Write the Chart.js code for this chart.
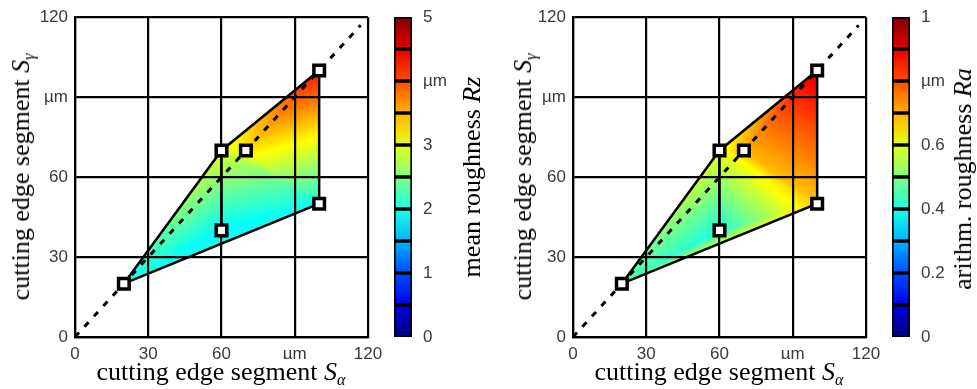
<!DOCTYPE html>
<html>
<head>
<meta charset="utf-8">
<script src="https://cdn.jsdelivr.net/npm/chart.js@4.4.0/dist/chart.umd.min.js"></script>
<style>
  body { margin: 0; background: #fff; width: 977px; height: 389px; overflow: hidden; position: relative; }
  canvas { position: absolute; top: 0; }
  .title {
    position: absolute; white-space: nowrap; line-height: 1; color: #000;
    font-family: "Liberation Serif", "Times New Roman", serif; font-size: 26px;
    transform: translate(-50%, -50%);
  }
  .rot { transform: translate(-50%, -50%) rotate(-90deg); }
  .title sub { font-size: 62%; vertical-align: baseline; position: relative; top: 0.3em; }
</style>
</head>
<body>
<canvas id="surfRz" width="390" height="389" style="left:0px"></canvas>
<canvas id="barRz" width="70" height="389" style="left:385px"></canvas>
<canvas id="surfRa" width="390" height="389" style="left:498px"></canvas>
<canvas id="barRa" width="70" height="389" style="left:883px"></canvas>

<div class="title" style="left:221px; top:372px">cutting edge segment <i>S</i><sub><i>α</i></sub></div>
<div class="title rot" style="left:21px; top:177px">cutting edge segment <i>S</i><sub><i>γ</i></sub></div>
<div class="title rot" style="left:472px; top:177px">mean roughness <i>Rz</i></div>

<div class="title" style="left:719px; top:372px">cutting edge segment <i>S</i><sub><i>α</i></sub></div>
<div class="title rot" style="left:523px; top:177px">cutting edge segment <i>S</i><sub><i>γ</i></sub></div>
<div class="title rot" style="left:963px; top:179px">arithm. roughness <i>Ra</i></div>

<script>
// measured points (A, C, D, E, F, B)
const sAlpha = [20, 60, 70, 100, 100, 60];
const sGamma = [20, 70, 70, 100, 50, 40];
const rz = [2.0, 2.95, 3.25, 4.3, 1.95, 1.85];
const ra = [0.45, 0.6, 0.7, 0.9, 0.68, 0.4];

// which points are joined
const outline = [0, 1, 3, 4, 0];
const inner = [1, 5];
const triangles = [[0, 5, 4], [0, 5, 1], [5, 4, 1], [1, 4, 2], [2, 4, 3], [1, 2, 3]];
const diagonal = [0, 117];

const axisTicks = [0, 30, 60, 90, 120];
const rzBins = [0, 0.5, 1, 1.5, 2, 2.5, 3, 3.5, 4, 4.5, 5];
const raBins = [0, 0.1, 0.2, 0.3, 0.4, 0.5, 0.6, 0.7, 0.8, 0.9, 1];

const tickFont = { family: '"Liberation Sans", Arial, sans-serif', size: 17 };
const tickColor = '#3a3a3a';

function clamp(v) { return Math.max(0, Math.min(1, v)); }
function jet(t) {
  return [
    Math.round(255 * clamp(1.5 - Math.abs(4 * t - 3))),
    Math.round(255 * clamp(1.5 - Math.abs(4 * t - 2))),
    Math.round(255 * clamp(1.5 - Math.abs(4 * t - 1)))
  ];
}
function jetCss(t) { const c = jet(t); return 'rgb(' + c.join(',') + ')'; }

// shaded surface under the grid
const surfacePlugin = {
  id: 'surface',
  beforeDraw(chart, args, opts) {
    const { ctx, scales: { x, y } } = chart;
    const px = sAlpha.map(v => x.getPixelForValue(v));
    const py = sGamma.map(v => y.getPixelForValue(v));
    const x0 = Math.floor(Math.min(...px)), x1 = Math.ceil(Math.max(...px));
    const y0 = Math.floor(Math.min(...py)), y1 = Math.ceil(Math.max(...py));
    const w = x1 - x0 + 1, h = y1 - y0 + 1;
    const img = ctx.createImageData(w, h);
    for (let j = 0; j < h; j++) {
      for (let i = 0; i < w; i++) {
        const X = x0 + i + 0.5, Y = y0 + j + 0.5;
        for (const t of triangles) {
          const [a, b, c] = t;
          const d = (py[b] - py[c]) * (px[a] - px[c]) + (px[c] - px[b]) * (py[a] - py[c]);
          const l1 = ((py[b] - py[c]) * (X - px[c]) + (px[c] - px[b]) * (Y - py[c])) / d;
          const l2 = ((py[c] - py[a]) * (X - px[c]) + (px[a] - px[c]) * (Y - py[c])) / d;
          const l3 = 1 - l1 - l2;
          if (l1 >= -0.01 && l2 >= -0.01 && l3 >= -0.01) {
            const v = l1 * opts.values[a] + l2 * opts.values[b] + l3 * opts.values[c];
            const col = jet(v / opts.max);
            const k = (j * w + i) * 4;
            img.data[k] = col[0]; img.data[k + 1] = col[1]; img.data[k + 2] = col[2]; img.data[k + 3] = 255;
            break;
          }
        }
      }
    }
    ctx.putImageData(img, x0, y0);
  }
};

function pick(idx) { return idx.map(i => ({ x: sAlpha[i], y: sGamma[i] })); }
function tickLabel(v) { return v === 90 ? 'µm' : v; }

function surfaceChart(id, values, max) {
  const axis = (extra) => Object.assign({
    type: 'linear', min: 0, max: 120,
    afterBuildTicks: s => { s.ticks = axisTicks.map(v => ({ value: v })); },
    ticks: { callback: tickLabel, font: tickFont, color: tickColor, padding: 7 },
    grid: { color: '#000', lineWidth: 2.2, drawTicks: false },
    border: { color: '#000', width: 2.2 }
  }, extra);
  return new Chart(document.getElementById(id), {
    type: 'scatter',
    data: {
      datasets: [
        { data: pick(sAlpha.map((v, i) => i)), pointStyle: 'rect', pointRadius: 7.5,
          backgroundColor: '#fff', borderColor: '#000', borderWidth: 3.5, order: 0 },
        { data: pick(outline), showLine: true, borderColor: '#000', borderWidth: 2.5, pointRadius: 0, order: 1 },
        { data: pick(inner), showLine: true, borderColor: '#000', borderWidth: 2.5, pointRadius: 0, order: 1 },
        { data: diagonal.map(v => ({ x: v, y: v })), showLine: true, borderColor: '#000', borderWidth: 3,
          borderDash: [6, 8], pointRadius: 0, order: 2 }
      ]
    },
    options: {
      responsive: false, animation: false,
      layout: { padding: { left: 40, right: 22, top: 17, bottom: 30 } },
      plugins: { legend: { display: false }, tooltip: { enabled: false }, surface: { values: values, max: max } },
      scales: {
        x: axis({ afterFit: s => { s.height = 22; } }),
        y: axis({ afterFit: s => { s.width = 35; } })
      }
    },
    plugins: [surfacePlugin]
  });
}

function colorbarChart(id, bins, max, step, labelAt) {
  const datasets = [];
  for (let i = 0; i < bins.length - 1; i++) {
    const lo = bins[i], hi = bins[i + 1];
    datasets.push({
      data: [[lo, hi]],
      grouped: false,
      borderColor: '#000', borderWidth: 2, borderSkipped: false,
      barPercentage: 1, categoryPercentage: 1,
      backgroundColor: (c) => {
        const ch = c.chart;
        if (!ch.chartArea) return jetCss((lo + hi) / 2 / max);
        const ys = ch.scales.y;
        const g = ch.ctx.createLinearGradient(0, ys.getPixelForValue(lo), 0, ys.getPixelForValue(hi));
        g.addColorStop(0, jetCss(lo / max));
        g.addColorStop(1, jetCss(hi / max));
        return g;
      }
    });
  }
  return new Chart(document.getElementById(id), {
    type: 'bar',
    data: { labels: [''], datasets: datasets },
    options: {
      responsive: false, animation: false,
      layout: { padding: { left: 9, right: 0, top: 17, bottom: 52 } },
      plugins: { legend: { display: false }, tooltip: { enabled: false } },
      scales: {
        x: { display: false },
        y: {
          position: 'right', min: 0, max: max,
          ticks: { stepSize: step, font: tickFont, color: tickColor, padding: 3,
                   callback: v => Math.abs(v - labelAt) < 1e-6 ? 'µm' : v },
          grid: { display: false }, border: { display: false },
          afterFit: s => { s.width = 43; }
        }
      }
    }
  });
}

surfaceChart('surfRz', rz, 5);
colorbarChart('barRz', rzBins, 5, 1, 4);
surfaceChart('surfRa', ra, 1);
colorbarChart('barRa', raBins, 1, 0.2, 0.8);
</script>
</body>
</html>
